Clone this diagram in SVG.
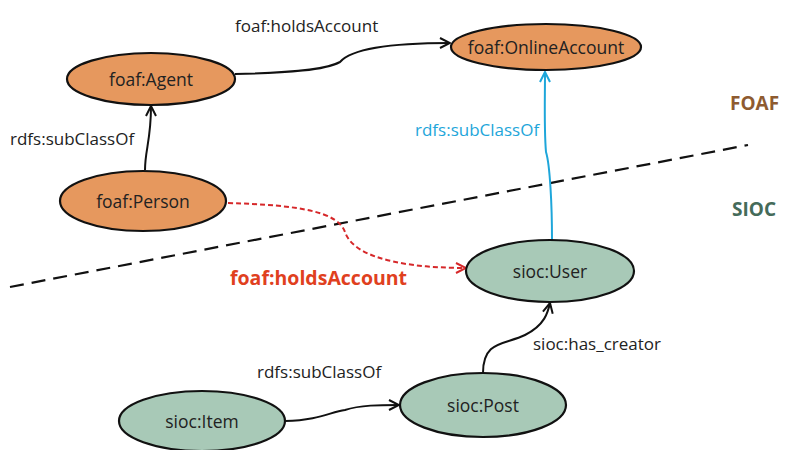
<svg xmlns="http://www.w3.org/2000/svg" width="788" height="450" viewBox="0 0 788 450">
<style>
.node{stroke:#111;stroke-width:2.2}
.foaf{fill:#E6985E}
.sioc{fill:#A8C9B7}
text{font-family:"Open Sans","Noto Sans","Liberation Sans",sans-serif;font-size:17px;fill:#222}
.nl{text-anchor:middle;dominant-baseline:central;font-size:17.5px}
.edge{fill:none;stroke:#111;stroke-width:2}
</style>
<defs>
<marker id="ab" viewBox="0 0 12 12" refX="11" refY="6" markerWidth="12" markerHeight="12" markerUnits="userSpaceOnUse" orient="auto"><path d="M1,1 L11,6 L1,11" fill="none" stroke="#111" stroke-width="2"/></marker>
<marker id="ablue" viewBox="0 0 12 12" refX="11" refY="6" markerWidth="12" markerHeight="12" markerUnits="userSpaceOnUse" orient="auto"><path d="M1,1 L11,6 L1,11" fill="none" stroke="#1EA6DA" stroke-width="2"/></marker>
<marker id="ared" viewBox="0 0 12 12" refX="11" refY="6" markerWidth="12" markerHeight="12" markerUnits="userSpaceOnUse" orient="auto"><path d="M1,1 L11,6 L1,11" fill="none" stroke="#D6282A" stroke-width="2"/></marker>
</defs>
<rect width="788" height="450" fill="#fff"/>
<line x1="10" y1="287" x2="748" y2="145" stroke="#111" stroke-width="2.2" stroke-dasharray="14,8"/>
<text x="730" y="110" style="font-weight:bold;font-size:19px;fill:#8E5B30">FOAF</text>
<text x="732" y="216" style="font-weight:bold;font-size:19px;fill:#456B5A">SIOC</text>
<g id="connectors">
<path class="edge" d="M235,74 C290,73 325,70 340,62 C352,48 395,43 450,43" marker-end="url(#ab)"/>
<path class="edge" d="M145,170 C145,150 151,140 151,106" marker-end="url(#ab)"/>
<path class="edge" d="M552,240 C552,205 550,165 546,152 C544,130 545,100 545,72" style="stroke:#1EA6DA" marker-end="url(#ablue)"/>
<path class="edge" d="M228,203 C300,205 338,212 345,232 C355,262 420,268 466,268" style="stroke:#D6282A;stroke-dasharray:5,3" marker-end="url(#ared)"/>
<path class="edge" d="M483,373 C483,340 505,345 525,335 C545,325 548,312 550,303" marker-end="url(#ab)"/>
<path class="edge" d="M285,421 C320,420 330,412 345,410 C360,405 380,405 399,405" marker-end="url(#ab)"/>
<text x="235" y="32">foaf:holdsAccount</text>
<text x="10" y="145">rdfs:subClassOf</text>
<text x="415" y="136" style="fill:#1EA6DA">rdfs:subClassOf</text>
<text x="230" y="285" style="fill:#E0401E;font-weight:bold;font-size:19.5px">foaf:holdsAccount</text>
<text x="533" y="350">sioc:has_creator</text>
<text x="257" y="378">rdfs:subClassOf</text>
</g>
<g id="agent"><ellipse class="node foaf" cx="151" cy="79" rx="84" ry="26"/><text class="nl" x="151" y="79">foaf:Agent</text></g>
<g id="person"><ellipse class="node foaf" cx="143" cy="201" rx="83" ry="30"/><text class="nl" x="143" y="201">foaf:Person</text></g>
<g id="onlineaccount"><ellipse class="node foaf" cx="546" cy="47" rx="95" ry="23"/><text class="nl" x="546" y="47">foaf:OnlineAccount</text></g>
<g id="user"><ellipse class="node sioc" cx="550" cy="271" rx="84" ry="31"/><text class="nl" x="550" y="271">sioc:User</text></g>
<g id="post"><ellipse class="node sioc" cx="483" cy="405" rx="83" ry="32"/><text class="nl" x="483" y="405">sioc:Post</text></g>
<g id="item"><ellipse class="node sioc" cx="202" cy="421" rx="83" ry="30"/><text class="nl" x="202" y="421">sioc:Item</text></g>
</svg>
